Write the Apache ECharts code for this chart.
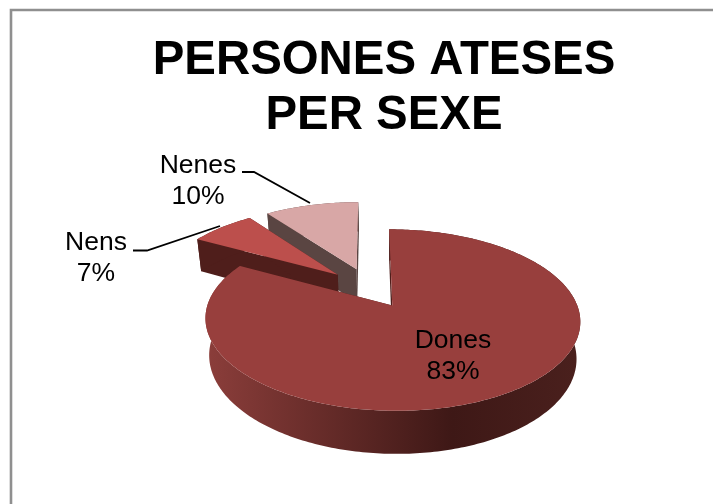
<!DOCTYPE html>
<html>
<head>
<meta charset="utf-8">
<style>html,body{margin:0;padding:0;background:#fff}#c{width:713px;height:504px}</style>
<script src="https://cdn.jsdelivr.net/npm/echarts@6/dist/echarts.min.js"></script>
</head>
<body>
<div id="c"></div>
<script>
// ---- data ----
const categories = ['Dones', 'Nens', 'Nenes'];
const values = [83, 7, 10];
const titleLines = ['PERSONES ATESES', 'PER SEXE'];

// ---- look ----
const topColors = ['#983f3d', '#bc4f4c', '#d8a7a6'];
const wallColors = ['#4f1e1b', '#4f1e1b', '#5a4542'];
const rimStops = [
  { offset: 0, color: '#8a3d3a' },
  { offset: 0.66, color: '#3e1816' },
  { offset: 1, color: '#4a201d' }
];
const labelAnchors = [[453, 356], [96, 258], [198, 181]];
const leaderLines = [null,
  [[133, 250.5], [147, 250.5], [220, 226]],
  [[242, 172], [254, 172], [310, 203]]
];

// ---- projection of the tilted pie ----
const cam = { x: 369.5, y: 287.7, a: 179, b: 82.8, k: 0.155, depth: 35, shrink: 0.98, pull: 0.242 };
function project(U, V, low) {
  const w = 1 - cam.k * V;
  let x = cam.x + cam.a * U / w;
  let y = cam.y + cam.b * V / w;
  if (low) {
    x = 391 + (x - 391) * cam.shrink;
    y += cam.depth / w;
  }
  return [x, y];
}
const total = values.reduce((s, v) => s + v, 0);
function sliceRange(i) {
  let before = 0;
  for (let j = 0; j < i; j++) before += values[j];
  return [before / total * 2 * Math.PI, (before + values[i]) / total * 2 * Math.PI];
}

function renderSlice(params) {
  const i = params.dataIndex;
  const [a0, a1] = sliceRange(i);
  const mid = (a0 + a1) / 2;
  const cU = Math.sin(mid) * cam.pull, cV = -Math.cos(mid) * cam.pull;
  const rim = (t) => [cU + Math.sin(t), cV - Math.cos(t)];
  const n = Math.max(12, Math.round((a1 - a0) * 60));
  const topArc = [], lowArc = [];
  for (let s = 0; s <= n; s++) {
    const t = a0 + (a1 - a0) * s / n;
    const p = rim(t);
    topArc.push(project(p[0], p[1], false));
    lowArc.push(project(p[0], p[1], true));
  }
  const apexTop = project(cU, cV, false), apexLow = project(cU, cV, true);
  const base = 50 - i * 10;
  const wall = wallColors[i];
  const children = [];
  // radial walls
  [[topArc[0], lowArc[0]], [topArc[n], lowArc[n]]].forEach(e => {
    children.push({ type: 'polygon', z2: base, shape: { points: [apexTop, e[0], e[1], apexLow] },
      style: { fill: wall } });
  });
  // outer rim
  const rimFill = i === 0
    ? new echarts.graphic.LinearGradient(210, 0, 577, 0, rimStops, true)
    : wall;
  children.push({ type: 'polygon', z2: base + 1,
    shape: { points: topArc.concat(lowArc.slice().reverse()) },
    style: { fill: rimFill } });
  // top face
  children.push({ type: 'polygon', z2: base + 2,
    shape: { points: [apexTop].concat(topArc) },
    style: { fill: topColors[i] } });
  // leader
  if (leaderLines[i]) {
    children.push({ type: 'polyline', z2: 90, shape: { points: leaderLines[i] },
      style: { fill: null, stroke: '#000', lineWidth: 1.8 } });
  }
  // label
  const pct = Math.round(values[i] / total * 100) + '%';
  children.push({ type: 'text', z2: 100, x: labelAnchors[i][0], y: labelAnchors[i][1],
    style: { text: categories[i] + '\n' + pct, align: 'center', verticalAlign: 'middle',
      font: '26.5px "Liberation Sans", Arial, sans-serif', lineHeight: 31, fill: '#000' } });
  return { type: 'group', children };
}

const chart = echarts.init(document.getElementById('c'), null, { renderer: 'canvas' });
chart.setOption({
  animation: false,
  backgroundColor: '#ffffff',
  title: {
    text: titleLines.join('\n'),
    left: 379, top: 28, textAlign: 'center',
    textStyle: { fontFamily: '"Liberation Sans", Arial, sans-serif', fontWeight: 'bold',
      fontSize: 47.4, lineHeight: 55, color: '#000' }
  },
  graphic: [
    { type: 'polyline', silent: true,
      shape: { points: [[11, 504], [11, 10], [713, 10]] },
      style: { fill: null, stroke: '#8f8f8f', lineWidth: 2.6 } }
  ],
  series: [{
    type: 'custom',
    coordinateSystem: 'none',
    renderItem: renderSlice,
    data: categories.map((c, i) => ({ name: c, value: values[i] }))
  }]
});
</script>
</body>
</html>
